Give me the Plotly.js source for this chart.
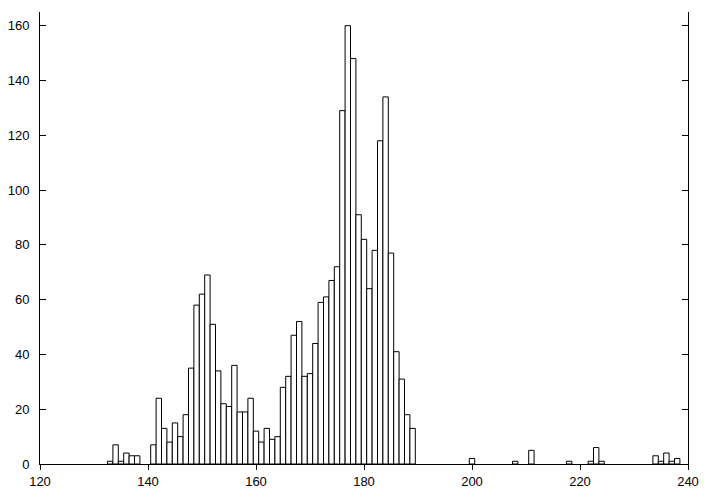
<!DOCTYPE html>
<html>
<head>
<meta charset="utf-8">
<script src="https://cdn.plot.ly/plotly-3.0.1.min.js"></script>
<style>
  html, body { margin: 0; padding: 0; background: #fff; }
  #chart { width: 712px; height: 499px; }
</style>
</head>
<body>
<div id="chart"></div>
<script>
// Histogram bin centers (unit-width bins) and counts
const binCenters = [
  133, 134, 135, 136, 137, 138,
  141, 142, 143, 144, 145, 146, 147, 148, 149, 150,
  151, 152, 153, 154, 155, 156, 157, 158, 159, 160,
  161, 162, 163, 164, 165, 166, 167, 168, 169, 170,
  171, 172, 173, 174, 175, 176, 177, 178, 179, 180,
  181, 182, 183, 184, 185, 186, 187, 188, 189,
  200, 208, 211, 218, 222, 223, 224, 234, 235, 236, 237, 238
];
const counts = [
  1, 7, 1, 4, 3, 3,
  7, 24, 13, 8, 15, 10, 18, 35, 58, 62,
  69, 51, 34, 22, 21, 36, 19, 19, 24, 12,
  8, 13, 9, 10, 28, 32, 47, 52, 32, 33,
  44, 59, 61, 67, 72, 129, 160, 148, 91, 82,
  64, 78, 118, 134, 77, 41, 31, 18, 13,
  2, 1, 5, 1, 1, 6, 1, 3, 1, 4, 1, 2
];
const xTicks = [120, 140, 160, 180, 200, 220, 240];
const yTicks = [0, 20, 40, 60, 80, 100, 120, 140, 160];

const trace = {
  type: 'bar',
  x: binCenters,
  y: counts,
  width: 1,
  marker: { color: '#ffffff', line: { color: '#000000', width: 1 } },
  hoverinfo: 'x+y'
};

const font = { family: '"Liberation Sans", Arial, Helvetica, sans-serif', size: 13, color: '#000' };

const layout = {
  width: 712, height: 499,
  margin: { l: 40, r: 24, t: 12, b: 35 },
  paper_bgcolor: '#fff', plot_bgcolor: '#fff',
  showlegend: false,
  bargap: 0,
  font: font,
  xaxis: {
    range: [120, 240],
    tickvals: xTicks, ticktext: xTicks.map(String),
    ticks: 'outside', ticklen: 5, tickcolor: '#000', tickwidth: 1,
    showline: true, linecolor: '#000', linewidth: 1,
    showgrid: false, zeroline: false,
    tickfont: font
  },
  xaxis2: {
    overlaying: 'x', side: 'top', anchor: 'y',
    range: [120, 240],
    tickvals: xTicks,
    ticks: 'inside', ticklen: 6, tickcolor: '#000', tickwidth: 1,
    showticklabels: false,
    showline: true, linecolor: '#000', linewidth: 1,
    showgrid: false, zeroline: false
  },
  yaxis: {
    range: [0, 165],
    tickvals: yTicks, ticktext: yTicks.map(String),
    ticks: 'inside', ticklen: 6, tickcolor: '#000', tickwidth: 1,
    mirror: 'ticks',
    showline: true, linecolor: '#000', linewidth: 1,
    showgrid: false, zeroline: false,
    ticklabelstandoff: 7,
    tickfont: font
  }
};

Plotly.newPlot('chart', [trace], layout, { displayModeBar: false, staticPlot: true });
</script>
</body>
</html>
